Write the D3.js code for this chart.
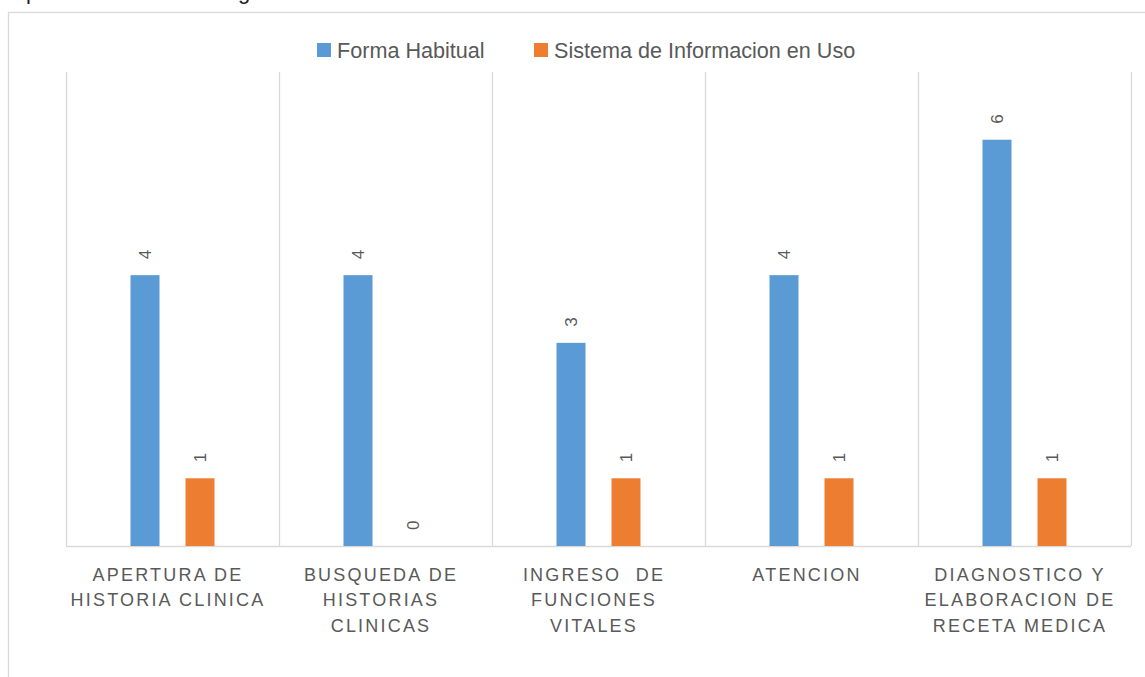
<!DOCTYPE html>
<html>
<head>
<meta charset="utf-8">
<script src="https://cdn.jsdelivr.net/npm/d3@7"></script>
<style>
  html, body { margin: 0; padding: 0; background: #fff; overflow: hidden; }
  svg { display: block; }
  text { font-family: "Liberation Sans", Arial, sans-serif; fill: #595959; }
</style>
</head>
<body>
<svg id="chart" width="1145" height="677"></svg>
<script>
// Tasks compared between the usual procedure and the information system
const categories = [
  "Apertura de historia clinica",
  "Busqueda de historias clinicas",
  "Ingreso de funciones vitales",
  "Atencion",
  "Diagnostico y elaboracion de receta medica"
];
const categoryLines = [
  ["APERTURA DE", "HISTORIA CLINICA"],
  ["BUSQUEDA DE", "HISTORIAS", "CLINICAS"],
  ["INGRESO  DE", "FUNCIONES", "VITALES"],
  ["ATENCION"],
  ["DIAGNOSTICO Y", "ELABORACION DE", "RECETA MEDICA"]
];
const seriesNames = ["Forma Habitual", "Sistema de Informacion en Uso"];
const formaHabitual = [4, 4, 3, 4, 6];
const sistemaInformacion = [1, 0, 1, 1, 1];
const seriesColors = ["#5B9BD5", "#ED7D31"];

const svg = d3.select("#chart");

// Fragment of the paragraph line above the chart
svg.append("text").attr("x", 26).attr("y", -1).style("font-size", "22px").style("fill", "#222").text("p");
svg.append("text").attr("x", 238).attr("y", -1).style("font-size", "22px").style("fill", "#222").text("g");

// Chart frame
svg.append("rect")
  .attr("x", 8.5).attr("y", 12.5)
  .attr("width", 1300).attr("height", 900)
  .attr("fill", "#fff").attr("stroke", "#d9d9d9").attr("stroke-width", 1.3);

const plot = { left: 66, right: 1131, top: 72, bottom: 546 };

const x = d3.scaleBand().domain(categories).range([plot.left, plot.right]).paddingInner(0).paddingOuter(0);
const xSub = d3.scaleBand().domain(seriesNames).range([0, x.bandwidth()])
  .paddingInner(0.4727).paddingOuter(1.173);
const y = d3.scaleLinear().domain([0, 7]).range([plot.bottom, plot.top]);

// Vertical separators between categories
const bounds = categories.map(c => x(c)).concat([plot.right]);
svg.append("g").selectAll("line").data(bounds).join("line")
  .attr("x1", d => Math.round(d) + 0.5).attr("x2", d => Math.round(d) + 0.5)
  .attr("y1", plot.top).attr("y2", plot.bottom)
  .attr("stroke", "#d9d9d9").attr("stroke-width", 1.3);

// Category axis line
svg.append("line")
  .attr("x1", plot.left).attr("x2", plot.right)
  .attr("y1", plot.bottom + 0.5).attr("y2", plot.bottom + 0.5)
  .attr("stroke", "#d9d9d9").attr("stroke-width", 1.5);

const rows = categories.map((c, i) => ({ cat: c, values: [formaHabitual[i], sistemaInformacion[i]] }));

const groups = svg.append("g").selectAll("g").data(rows).join("g")
  .attr("transform", d => `translate(${x(d.cat)},0)`);

groups.selectAll("rect")
  .data(d => d.values.map((v, j) => ({ name: seriesNames[j], value: v, j })))
  .join("rect")
  .attr("x", d => xSub(d.name))
  .attr("width", xSub.bandwidth())
  .attr("y", d => y(d.value))
  .attr("height", d => y(0) - y(d.value))
  .attr("fill", d => seriesColors[d.j]);

// Rotated value labels
groups.selectAll("text.val")
  .data(d => d.values.map((v, j) => ({ name: seriesNames[j], value: v })))
  .join("text")
  .attr("class", "val")
  .attr("transform", d => `translate(${xSub(d.name) + xSub.bandwidth() / 2},${y(d.value) - 16}) rotate(-90)`)
  .attr("text-anchor", "start")
  .attr("dy", "0.35em")
  .style("font-size", "17px")
  .text(d => d.value);

// Category labels
const catLabels = svg.append("g").selectAll("text").data(categories).join("text")
  .attr("text-anchor", "middle")
  .style("font-size", "18px")
  .style("letter-spacing", "2.2px")
  .style("white-space", "pre");
catLabels.selectAll("tspan")
  .data((d, i) => categoryLines[i].map((line, k) => ({ line, k, cx: x(d) + x.bandwidth() / 2 })))
  .join("tspan")
  .attr("x", d => d.cx - 4.5)
  .attr("y", d => 581 + d.k * 25.3)
  .text(d => d.line);

// Legend
const legendX = [317, 534];
const legend = svg.append("g").selectAll("g").data(seriesNames).join("g")
  .attr("transform", (d, i) => `translate(${legendX[i]},43)`);
legend.append("rect").attr("width", 14).attr("height", 14).attr("fill", (d, i) => seriesColors[i]);
legend.append("text").attr("x", 20).attr("y", 14.5).style("font-size", "21.6px").text(d => d);
</script>
</body>
</html>
